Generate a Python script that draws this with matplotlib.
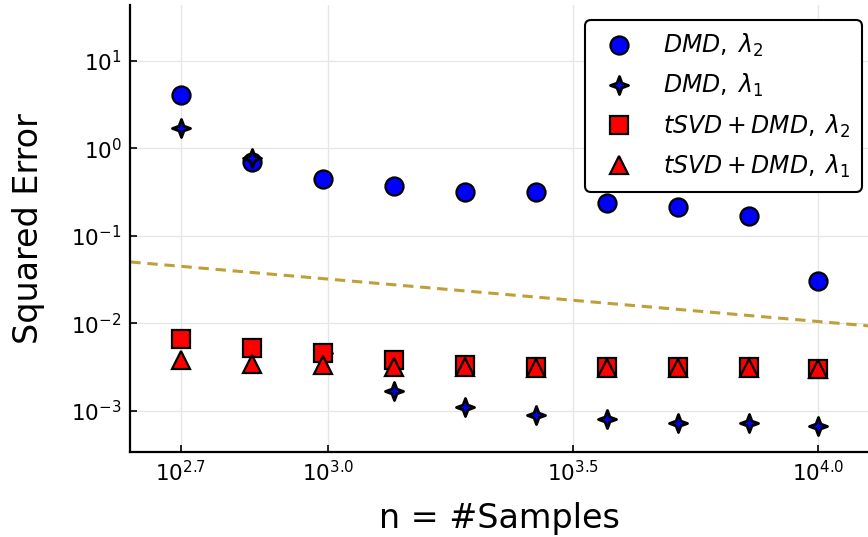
import numpy as np
import matplotlib
matplotlib.use("Agg")
import matplotlib.pyplot as plt
from matplotlib.path import Path
from matplotlib.ticker import FixedLocator, NullLocator

# ---- data ----
n_samples = [501, 700, 977, 1364, 1905, 2660, 3715, 5187, 7242, 10000]
dmd_l2 = [4.08, 0.70, 0.448, 0.373, 0.318, 0.318, 0.238, 0.214, 0.169, 0.0306]
dmd_l1 = [1.71, 0.78, 0.0046, 0.00169, 0.00111, 0.00090, 0.00081, 0.00073, 0.00073, 0.000674]
tsvd_l2 = [0.00665, 0.00525, 0.0046, 0.00383, 0.00336, 0.00318, 0.00318, 0.00318, 0.00318, 0.00302]
tsvd_l1 = [0.00383, 0.00344, 0.00336, 0.00318, 0.00318, 0.0031, 0.0031, 0.0031, 0.0031, 0.00302]
ref_n = [395, 12650]
ref_err = [0.0505, 0.0094]

xtick_vals = [10**2.7, 10**3.0, 10**3.5, 10**4.0]
xtick_labels = [r'$10^{2.7}$', r'$10^{3.0}$', r'$10^{3.5}$', r'$10^{4.0}$']
ytick_vals = [1e-3, 1e-2, 1e-1, 1e0, 1e1]
ytick_labels = [r'$10^{-3}$', r'$10^{-2}$', r'$10^{-1}$', r'$10^{0}$', r'$10^{1}$']

# 4-pointed star marker
ang = np.deg2rad(90 - 45 * np.arange(8))
rad = np.where(np.arange(8) % 2 == 0, 1.0, 0.38)
verts = np.column_stack([rad * np.cos(ang), rad * np.sin(ang)])
verts = np.vstack([verts, verts[:1]])
codes = [Path.MOVETO] + [Path.LINETO] * 7 + [Path.CLOSEPOLY]
star4 = Path(verts, codes)

fig = plt.figure(figsize=(8.68, 5.37), dpi=100)
ax = fig.add_axes([130/868, (537-452)/537, (868-130)/868, (452-5)/537])
ax.set_xscale('log')
ax.set_yscale('log')

ax.plot(ref_n, ref_err, color='#BFA038', lw=2.2, ls=(0, (3.4, 2.2)), zorder=2)

ax.plot(n_samples, dmd_l2, ls='none', marker='o', ms=13, mfc='#0000FF', mec='black', mew=1.6,
        label=r'$DMD,\;\lambda_2$', zorder=3)
ax.plot(n_samples, dmd_l1, ls='none', marker=star4, ms=13, mfc='#0000FF', mec='black', mew=2.0,
        label=r'$DMD,\;\lambda_1$', zorder=4)
ax.plot(n_samples, tsvd_l2, ls='none', marker='s', ms=12.5, mfc='#FF0000', mec='black', mew=1.6,
        label=r'$tSVD + DMD,\;\lambda_2$', zorder=5)
ax.plot(n_samples, tsvd_l1, ls='none', marker='^', ms=12.5, mfc='#FF0000', mec='black', mew=1.6,
        label=r'$tSVD + DMD,\;\lambda_1$', zorder=6)

ax.set_xlim(10**2.596, 10**4.102)
ax.set_ylim(10**-3.469, 10**1.64)

ax.xaxis.set_major_locator(FixedLocator(xtick_vals))
ax.set_xticklabels(xtick_labels)
ax.xaxis.set_minor_locator(NullLocator())
ax.yaxis.set_major_locator(FixedLocator(ytick_vals))
ax.set_yticklabels(ytick_labels)
ax.yaxis.set_minor_locator(NullLocator())

ax.tick_params(direction='in', length=5, width=1.2, labelsize=15.5, colors='black', pad=6)
for s in ['top', 'right']:
    ax.spines[s].set_visible(False)
for s in ['left', 'bottom']:
    ax.spines[s].set_linewidth(1.6)

ax.grid(True, color='#e6e6e6', lw=1.0, zorder=0)
ax.set_axisbelow(True)

ax.set_xlabel('n = #Samples', fontsize=24, labelpad=12)
ax.set_ylabel('Squared Error', fontsize=24, labelpad=19)

leg = ax.legend(loc='upper right', bbox_to_anchor=(0.992, 0.966), borderaxespad=0,
                fontsize=17, frameon=True, fancybox=True, framealpha=1,
                handletextpad=0.9, labelspacing=0.55, borderpad=0.5, handlelength=1.9)
leg.get_frame().set_edgecolor('black')
leg.get_frame().set_linewidth(1.5)
leg.get_frame().set_boxstyle('round,pad=0,rounding_size=0.25')

fig.savefig('out.png', dpi=100)
